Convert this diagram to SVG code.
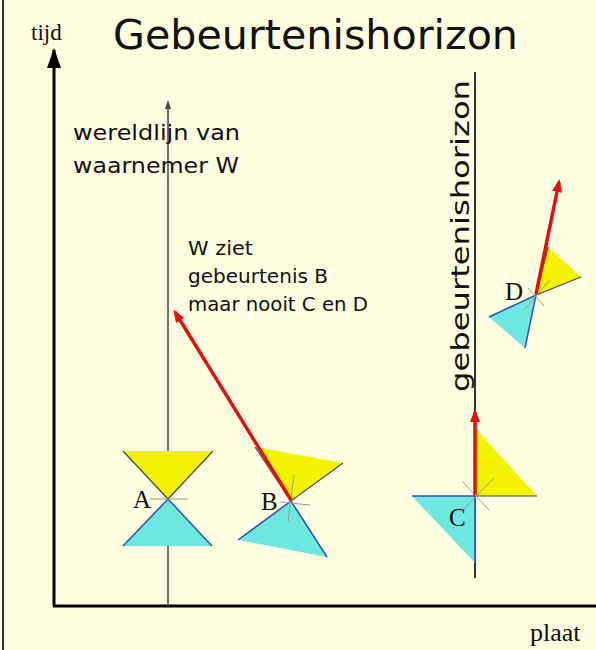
<svg xmlns="http://www.w3.org/2000/svg" width="596" height="650" viewBox="0 0 596 650">
<defs>
<style>
.comic{font-family:"DejaVu Sans","Open Sans",sans-serif;fill:#111}
.times{font-family:"Liberation Serif",serif;fill:#111}
.fut{fill:#f4f400}
.past{fill:#6ee8e0}
.edge{stroke:#3050b0;stroke-width:1.5;fill:none}
.dark{stroke:#444;stroke-width:1.2;fill:none}
.tick{stroke:#999;stroke-width:1;fill:none}
.red{stroke:#e01010;stroke-width:3.5;fill:none;marker-end:url(#ra)}
</style>
<marker id="ra" markerWidth="14" markerHeight="10" refX="10" refY="5" orient="auto" markerUnits="userSpaceOnUse"><path d="M0,0 L13,5 L0,10 z" fill="#e01010"/></marker>
</defs>
<rect width="596" height="650" fill="#fffee0"/>
<line x1="3" y1="0" x2="3" y2="650" stroke="#333" stroke-width="2"/>
<text class="comic" x="113" y="49" font-size="41" textLength="405" lengthAdjust="spacingAndGlyphs">Gebeurtenishorizon</text>
<text class="times" x="31" y="40" font-size="23">tijd</text>
<text class="times" x="530" y="641" font-size="26">plaat</text>
<g id="axes">
<line x1="54" y1="606" x2="54" y2="50" stroke="#000" stroke-width="3"/>
<path d="M54,48 L47,68 L61,68 z" fill="#000"/>
<line x1="53" y1="606" x2="596" y2="606" stroke="#000" stroke-width="3"/>
</g>
<g id="worldline">
<line x1="168" y1="606" x2="168" y2="104" stroke="#444" stroke-width="1.5"/>
<path d="M168,100 L165,109 L171,109 z" fill="#444"/>
<text class="comic" x="73" y="140" font-size="22" textLength="167" lengthAdjust="spacingAndGlyphs">wereldlijn van</text>
<text class="comic" x="73" y="173" font-size="22" textLength="166" lengthAdjust="spacingAndGlyphs">waarnemer W</text>
</g>
<g id="label-W">
<text class="comic" x="188" y="255" font-size="19" textLength="65" lengthAdjust="spacingAndGlyphs">W ziet</text>
<text class="comic" x="188" y="283" font-size="19" textLength="140" lengthAdjust="spacingAndGlyphs">gebeurtenis B</text>
<text class="comic" x="188" y="311" font-size="19" textLength="180" lengthAdjust="spacingAndGlyphs">maar nooit C en D</text>
</g>
<g id="horizon">
<line x1="475" y1="72" x2="475" y2="578" stroke="#333" stroke-width="2"/>
<text class="comic" transform="translate(469,392) rotate(-90)" font-size="25" textLength="312" lengthAdjust="spacingAndGlyphs">gebeurtenishorizon</text>
</g>
<g id="cone-A">
<path class="fut" d="M168,499 L123,451 L213,451 z"/>
<path class="past" d="M168,499 L123,546 L212,546 z"/>
<path class="dark" d="M123,451 L168,499 L213,451"/>
<path class="edge" d="M123,546 L168,499 L212,546"/>
<line class="tick" x1="150" y1="499" x2="188" y2="499"/>
<text class="times" x="133" y="508" font-size="25">A</text>
</g>
<g id="cone-B">
<path class="fut" d="M291,501 L255,447 L343,463 z"/>
<path class="past" d="M291,501 L238,540 L327,557 z"/>
<path class="dark" d="M255,447 L291,501 L343,463"/>
<path class="edge" d="M238,540 L291,501 L327,557"/>
<line class="tick" x1="280" y1="502" x2="310" y2="505"/>
<line class="tick" x1="294" y1="475" x2="288" y2="522"/>
<text class="times" x="261" y="510" font-size="25">B</text>
</g>
<g id="cone-C">
<path class="fut" d="M475,496 L475,428 L537,496 z"/>
<path class="past" d="M475,496 L412,496 L475,563 z"/>
<path class="dark" d="M475,428 L475,496 L537,496"/>
<path class="edge" d="M412,496 L475,496 L475,563"/>
<line class="tick" x1="462" y1="481" x2="489" y2="510"/>
<line class="tick" x1="463" y1="510" x2="494" y2="478"/>
<text class="times" x="449" y="526" font-size="25">C</text>
</g>
<g id="cone-D">
<path class="fut" d="M536,295 L548,247 L581,277 z"/>
<path class="past" d="M536,295 L489,317 L525,348 z"/>
<path class="dark" d="M548,247 L536,295 L581,277"/>
<path class="edge" d="M489,317 L536,295 L525,348"/>
<line class="tick" x1="528" y1="288" x2="544" y2="306"/>
<line class="tick" x1="524" y1="310" x2="550" y2="280"/>
<text class="times" x="505" y="300" font-size="25">D</text>
</g>
<g id="connectors">
<line class="red" x1="291" y1="500" x2="175" y2="312"/>
<line class="red" x1="475" y1="495" x2="475" y2="412"/>
<line class="red" x1="536" y1="294" x2="559" y2="182"/>
</g>
</svg>
